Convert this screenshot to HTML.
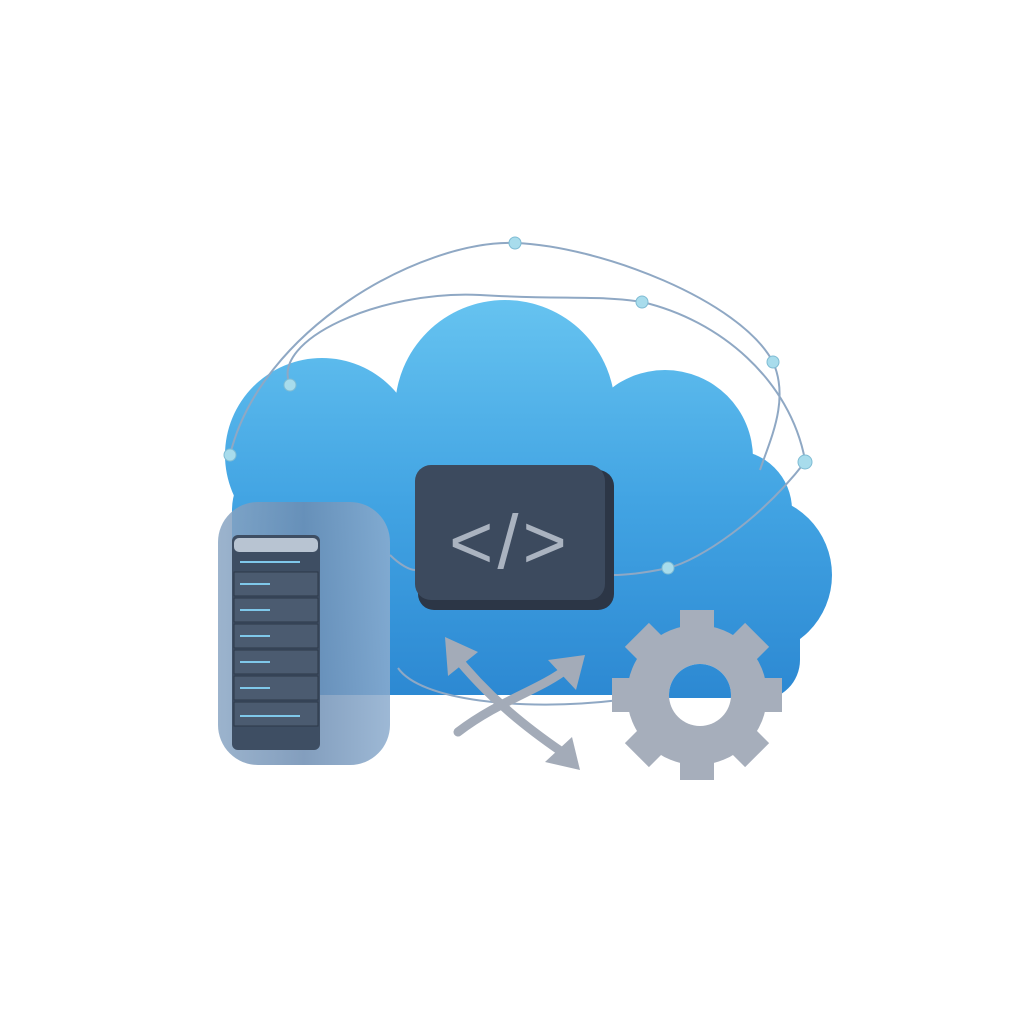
<!DOCTYPE html>
<html><head><style>html,body{margin:0;padding:0;background:#fff;}svg{display:block}</style></head>
<body>
<svg width="1024" height="1024" viewBox="0 0 1024 1024" xmlns="http://www.w3.org/2000/svg">
<defs>
<linearGradient id="cl" gradientUnits="userSpaceOnUse" x1="0" y1="300" x2="0" y2="700">
<stop offset="0" stop-color="#66c3f0"/><stop offset="0.5" stop-color="#42a4e3"/><stop offset="1" stop-color="#2c88d2"/>
</linearGradient>
<linearGradient id="sv" x1="0" y1="0" x2="1" y2="0">
<stop offset="0" stop-color="#8aa6c4"/><stop offset="0.5" stop-color="#6d8db2"/><stop offset="1" stop-color="#8cacce"/>
</linearGradient>
<clipPath id="hc"><rect x="660" y="650" width="80" height="48"/></clipPath>
</defs>
<g fill="url(#cl)">
<circle cx="322" cy="455" r="97"/>
<circle cx="505" cy="410" r="110"/>
<circle cx="665" cy="458" r="88"/>
<circle cx="752" cy="575" r="80"/>
<rect x="232" y="450" width="560" height="245" rx="60"/>
<rect x="600" y="600" width="200" height="100" rx="40"/>
</g>
<g fill="none" stroke="#8fa8c4" stroke-width="2">
<path d="M230,455 C260,330 420,240 515,243 C600,246 740,300 773,362 C790,400 770,440 760,470"/>
<path d="M290,385 C270,340 380,290 480,295 C560,300 600,295 642,302 C720,320 790,380 805,460"/>
<path d="M805,462 C760,520 700,560 668,568 C640,574 625,575 612,575"/>
<path d="M390,555 C400,565 410,570 415,570"/>
<path d="M398,668 C420,700 520,712 620,700"/>
</g>
<g fill="#a8dcec" stroke="#7fbcd4" stroke-width="1">
<circle cx="515" cy="243" r="6"/><circle cx="642" cy="302" r="6"/><circle cx="773" cy="362" r="6"/>
<circle cx="805" cy="462" r="7"/><circle cx="668" cy="568" r="6"/><circle cx="290" cy="385" r="6"/><circle cx="230" cy="455" r="6"/>
</g>
<rect x="418" y="470" width="196" height="140" rx="16" fill="#2c3646"/>
<rect x="415" y="465" width="190" height="135" rx="16" fill="#3c4a5e"/>
<text x="510" y="568" text-anchor="middle" font-family="Liberation Sans, sans-serif" font-size="76" letter-spacing="4" fill="#aab3c0">&lt;/&gt;</text>
<rect x="218" y="502" width="172" height="263" rx="40" fill="url(#sv)" opacity="0.85"/>
<rect x="232" y="535" width="88" height="215" rx="6" fill="#3e4e63"/>
<g fill="#4b5b70" stroke="#2c3848" stroke-width="1">
<rect x="234" y="572" width="84" height="24"/><rect x="234" y="598" width="84" height="24"/>
<rect x="234" y="624" width="84" height="24"/><rect x="234" y="650" width="84" height="24"/>
<rect x="234" y="676" width="84" height="24"/><rect x="234" y="702" width="84" height="24"/>
</g>
<g stroke="#7fc8ea" stroke-width="2">
<line x1="240" y1="562" x2="300" y2="562"/><line x1="240" y1="716" x2="300" y2="716"/>
<line x1="240" y1="584" x2="270" y2="584"/><line x1="240" y1="610" x2="270" y2="610"/><line x1="240" y1="636" x2="270" y2="636"/>
<line x1="240" y1="662" x2="270" y2="662"/><line x1="240" y1="688" x2="270" y2="688"/>
</g>
<rect x="234" y="538" width="84" height="14" rx="5" fill="#b8c4d2"/>
<g stroke="#a3abb8" stroke-width="9" fill="none" stroke-linecap="round">
<path d="M458,732 C500,700 540,690 568,668"/>
<path d="M452,652 C490,700 530,730 562,752"/>
</g>
<g fill="#a3abb8">
<polygon points="585,655 548,660 576,690"/>
<polygon points="445,637 448,676 478,652"/>
<polygon points="580,770 545,762 572,737"/>
</g>
<g fill="#a6aebb">
<circle cx="697" cy="695" r="70"/>
<rect x="680" y="610" width="34" height="26" transform="rotate(0 697 695)"/>
<rect x="680" y="610" width="34" height="26" transform="rotate(45 697 695)"/>
<rect x="680" y="610" width="34" height="26" transform="rotate(90 697 695)"/>
<rect x="680" y="610" width="34" height="26" transform="rotate(135 697 695)"/>
<rect x="680" y="610" width="34" height="26" transform="rotate(180 697 695)"/>
<rect x="680" y="610" width="34" height="26" transform="rotate(225 697 695)"/>
<rect x="680" y="610" width="34" height="26" transform="rotate(270 697 695)"/>
<rect x="680" y="610" width="34" height="26" transform="rotate(315 697 695)"/>
</g>
<circle cx="700" cy="695" r="31" fill="#ffffff"/>
<circle cx="700" cy="695" r="31" fill="url(#cl)" clip-path="url(#hc)"/>
</svg>
</body></html>
